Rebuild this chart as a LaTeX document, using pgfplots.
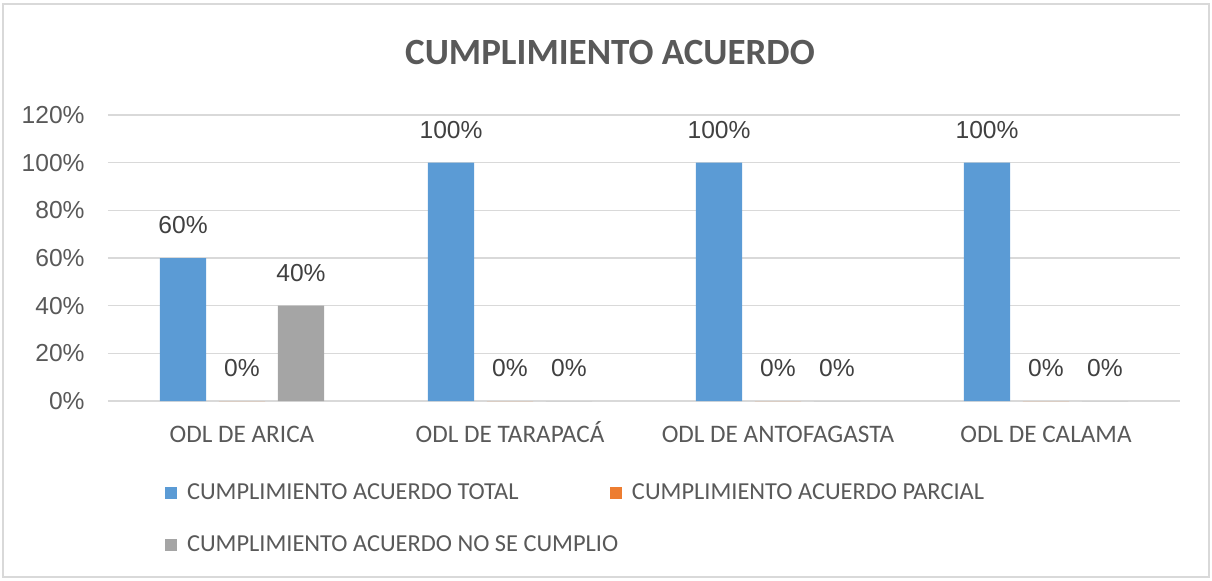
\documentclass[border=0pt]{standalone}
\usepackage{pgfplots}
\pgfplotsset{compat=1.18}
\usepackage{fontspec}
\setmainfont{Carlito}
\newfontfamily\arialf{Liberation Sans}
\definecolor{cblue}{HTML}{5B9BD5}
\definecolor{corange}{HTML}{ED7D31}
\definecolor{cgray}{HTML}{A5A5A5}
\definecolor{gridc}{HTML}{D9D9D9}
\definecolor{txt}{HTML}{595959}
\definecolor{lbl}{HTML}{404040}
\pgfplotsset{sqleg/.style={legend image code/.code={\fill[##1] (0pt,-3pt) rectangle (6pt,3pt);}}}
\begin{document}
\begin{tikzpicture}[x=1pt,y=1pt]
\useasboundingbox (0,0) rectangle (606,290);
\draw[gridc, line width=0.75pt] (1.5,1.5) rectangle (604.5,288);
\node[font=\fontsize{18.5}{22}\selectfont\bfseries, text=txt] at (305,263.5) {CUMPLIMIENTO ACUERDO};
\begin{axis}[
  at={(54pt,89.5pt)}, anchor=south west,
  scale only axis, width=536pt, height=143pt,
  xmin=-0.5, xmax=3.5, ymin=0, ymax=120,
  ybar, bar width=0.172,
  axis line style={draw=none},
  tick style={draw=none},
  ymajorgrids, major grid style={gridc, line width=0.8pt},
  ytick={0,20,...,120},
  /pgf/number format/assume math mode=true,
  yticklabel={\pgfmathprintnumber{\tick}\%},
  yticklabel style={font=\arialf\fontsize{12.3}{14}\selectfont, text=txt, anchor=east, inner sep=0pt, xshift=-11.5pt},
  xtick={0,1,2,3},
  xticklabels={ODL DE ARICA, ODL DE TARAPACÁ, ODL DE ANTOFAGASTA, ODL DE CALAMA},
  xticklabel style={font=\fontsize{12.6}{14}\selectfont, text=txt, anchor=center, inner sep=0pt, text height=7.7pt, text depth=0pt, yshift=-12.5pt},
  nodes near coords={\pgfmathprintnumber{\pgfplotspointmeta}\%},
  nodes near coords style={font=\arialf\fontsize{12.3}{14}\selectfont, text=lbl, anchor=center, inner sep=0pt, yshift=16.5pt},
  legend columns=2,
  legend style={at={(0.05317,-0.2832)}, anchor=north west, draw=none, fill=none, inner sep=0pt, outer sep=0pt, column sep=5pt, row sep=15pt, font=\fontsize{12.2}{14}\selectfont, text=txt, nodes={inner sep=0pt, text height=8.5pt, text depth=2.5pt}},
]
\addplot[fill=cblue, draw=none, bar shift=-0.22, sqleg] coordinates {(0,60) (1,100) (2,100) (3,100)};
\addlegendentry{\makebox[206.5pt][l]{CUMPLIMIENTO ACUERDO TOTAL}}
\addplot[fill=corange, draw=none, bar shift=0, sqleg] coordinates {(0,0) (1,0) (2,0) (3,0)};
\addlegendentry{CUMPLIMIENTO ACUERDO PARCIAL}
\addplot[fill=cgray, draw=none, bar shift=0.22, sqleg] coordinates {(0,40) (1,0) (2,0) (3,0)};
\addlegendentry{\makebox[206.5pt][l]{CUMPLIMIENTO ACUERDO NO SE CUMPLIO}}
\end{axis}
\end{tikzpicture}
\end{document}
